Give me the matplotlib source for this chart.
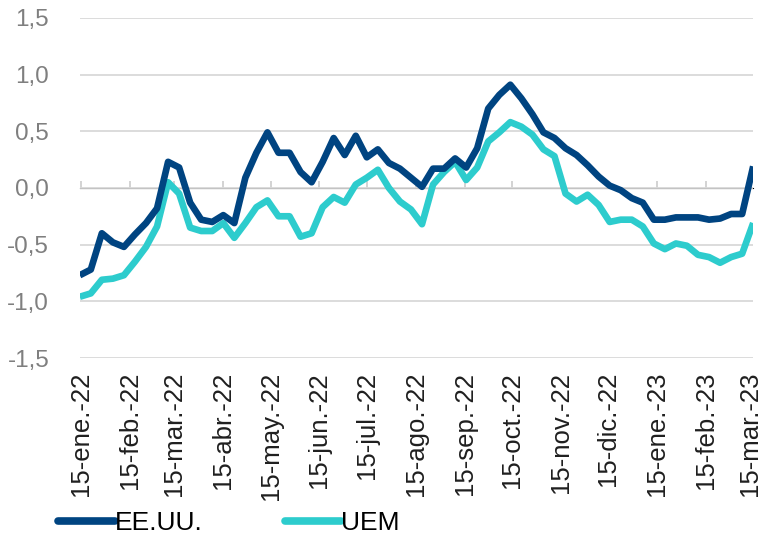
import matplotlib
matplotlib.use('Agg')
import matplotlib.pyplot as plt
import pandas as pd

# weekly data, 62 points
dates = pd.date_range('2022-01-14', periods=62, freq='7D')

eeuu = [-0.77, -0.72, -0.40, -0.48, -0.52, -0.41, -0.31, -0.18, 0.23, 0.18, -0.13,
        -0.28, -0.30, -0.24, -0.31, 0.09, 0.31, 0.49, 0.31, 0.31, 0.14, 0.05,
        0.23, 0.44, 0.29, 0.46, 0.27, 0.34, 0.22, 0.17, 0.09, 0.01, 0.17,
        0.17, 0.26, 0.18, 0.35, 0.70, 0.82, 0.91, 0.79, 0.65, 0.49,
        0.44, 0.35, 0.29, 0.20, 0.10, 0.02, -0.02, -0.09, -0.13, -0.28,
        -0.28, -0.26, -0.26, -0.26, -0.28, -0.27, -0.23, -0.23, 0.19]

uem = [-0.96, -0.93, -0.81, -0.80, -0.77, -0.65, -0.52, -0.34, 0.05, -0.05, -0.35,
       -0.38, -0.38, -0.31, -0.44, -0.31, -0.17, -0.11, -0.25, -0.25, -0.43, -0.40,
       -0.17, -0.08, -0.13, 0.03, 0.09, 0.16, 0.00, -0.12, -0.19, -0.32, 0.03,
       0.14, 0.23, 0.07, 0.18, 0.41, 0.49, 0.58, 0.54, 0.47, 0.34,
       0.28, -0.05, -0.12, -0.06, -0.15, -0.30, -0.28, -0.28, -0.34, -0.49,
       -0.54, -0.49, -0.51, -0.59, -0.61, -0.66, -0.61, -0.58, -0.31]

tick_dates = pd.date_range('2022-01-15', periods=15, freq=pd.DateOffset(months=1))
tick_labels = ['15-ene.-22', '15-feb.-22', '15-mar.-22', '15-abr.-22', '15-may.-22',
               '15-jun.-22', '15-jul.-22', '15-ago.-22', '15-sep.-22', '15-oct.-22',
               '15-nov.-22', '15-dic.-22', '15-ene.-23', '15-feb.-23', '15-mar.-23']
y_ticks = [-1.5, -1.0, -0.5, 0.0, 0.5, 1.0, 1.5]
y_labels = ['-1,5', '-1,0', '-0,5', '0,0', '0,5', '1,0', '1,5']

plt.rcParams['font.family'] = ['Liberation Sans', 'DejaVu Sans']

fig = plt.figure(figsize=(7.67, 5.40), dpi=100)
ax = fig.add_axes([0.104, 0.337, 0.878, 0.630])

ax.plot(dates, eeuu, color='#004481', lw=4.8, label='EE.UU.', solid_capstyle='butt', zorder=4)
ax.plot(dates, uem, color='#2dcccd', lw=4.8, label='UEM', solid_capstyle='butt', zorder=3)

ax.set_xlim(dates[0], dates[-1])
ax.set_ylim(-1.5, 1.5)
ax.set_yticks(y_ticks)
ax.set_yticklabels(y_labels)
ax.set_xticks(tick_dates)
ax.set_xticklabels(tick_labels, rotation=90)
ax.tick_params(axis='y', length=0, pad=22, labelsize=17.5, labelcolor='#7f7f7f')
ax.tick_params(axis='x', length=0, pad=10, labelsize=18.5, labelcolor='#1f1f1f')
ax.grid(axis='y', color='#d9d9d9', lw=1.3)
for s in ax.spines.values():
    s.set_visible(False)

# axis line at zero with small ticks
sec = ax.secondary_xaxis(0.5)
sec.set_xticks(tick_dates)
sec.set_xticklabels([''] * len(tick_dates))
sec.tick_params(length=5, width=1.3, color='#d0d0d0')
sec.spines['bottom'].set_color('#d9d9d9')
sec.spines['bottom'].set_linewidth(1.3)

leg = fig.legend(loc='lower left', bbox_to_anchor=(0.045, -0.035), ncol=2, frameon=False,
                 handlelength=2.15, handletextpad=0.0, columnspacing=3.1,
                 prop={'family': ['Liberation Sans Narrow', 'Liberation Sans'], 'size': 19})
for line in leg.get_lines():
    line.set_linewidth(5.5)
    line.set_solid_capstyle('round')

fig.savefig('out.png', dpi=100)
